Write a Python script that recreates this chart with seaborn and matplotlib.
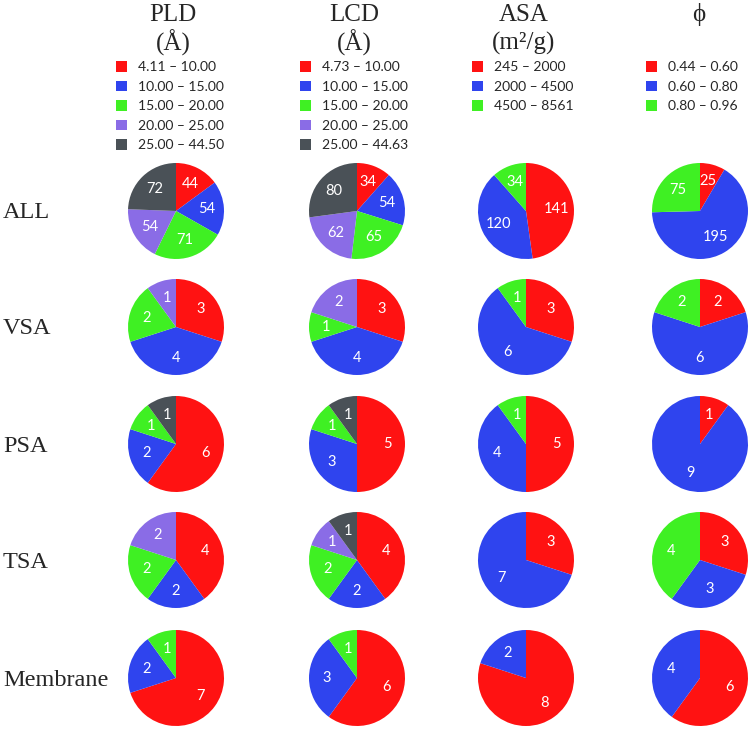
import matplotlib
matplotlib.use("Agg")
import matplotlib.pyplot as plt
from matplotlib.patches import Patch
import seaborn as sns

# data
row_names = ["ALL", "VSA", "PSA", "TSA", "Membrane"]

pld_bins = ["4.11 – 10.00", "10.00 – 15.00", "15.00 – 20.00", "20.00 – 25.00", "25.00 – 44.50"]
lcd_bins = ["4.73 – 10.00", "10.00 – 15.00", "15.00 – 20.00", "20.00 – 25.00", "25.00 – 44.63"]
asa_bins = ["245 – 2000", "2000 – 4500", "4500 – 8561"]
phi_bins = ["0.44 – 0.60", "0.60 – 0.80", "0.80 – 0.96"]

pld_counts = [[44, 54, 71, 54, 72], [3, 4, 2, 1, 0], [6, 2, 1, 0, 1], [4, 2, 2, 2, 0], [7, 2, 1, 0, 0]]
lcd_counts = [[34, 54, 65, 62, 80], [3, 4, 1, 2, 0], [5, 3, 1, 0, 1], [4, 2, 2, 1, 1], [6, 3, 1, 0, 0]]
asa_counts = [[141, 120, 34], [3, 6, 1], [5, 4, 1], [3, 7, 0], [8, 2, 0]]
phi_counts = [[25, 195, 75], [2, 6, 2], [1, 9, 0], [3, 3, 4], [6, 4, 0]]

titles = ["PLD\n(Å)", "LCD\n(Å)", "ASA\n(m²/g)", "ϕ"]

sns.set_theme(style="white")
colors = sns.color_palette(["#FF1212", "#2F44EE", "#3FF023", "#8A6CE6", "#4A5157"])

W, H = 756, 735
fig = plt.figure(figsize=(W / 100, H / 100), dpi=100)

col_x = [176, 357, 526, 700]
row_y = [211, 327, 444, 560, 678]
R = 48

columns = [
    (pld_counts, pld_bins),
    (lcd_counts, lcd_bins),
    (asa_counts, asa_bins),
    (phi_counts, phi_bins),
]

for j, (counts, bins) in enumerate(columns):
    for i, vals in enumerate(counts):
        cx, cy = col_x[j], row_y[i]
        ax = fig.add_axes([(cx - 1.25 * R) / W, 1 - (cy + 1.25 * R) / H, 2.5 * R / W, 2.5 * R / H])
        labels = [str(v) if v > 0 else "" for v in vals]
        wedges, texts = ax.pie(vals, labels=labels, colors=colors[:len(vals)], startangle=90,
                               counterclock=False, labeldistance=0.64,
                               wedgeprops=dict(linewidth=0),
                               textprops=dict(color="white", fontsize=10.5, family="Lato"))
        for t in texts:
            t.set_horizontalalignment("center")
            t.set_verticalalignment("center")
        ax.set_xlim(-1.25, 1.25)
        ax.set_ylim(-1.25, 1.25)
        ax.set_aspect("equal")
        ax.axis("off")

# column headers
title_x = [173, 354, 524, 699]
for j, t in enumerate(titles):
    lines = t.split("\n")
    fig.text(title_x[j] / W, 1 - 15 / H, lines[0], ha="center", va="center",
             family="Liberation Serif", fontsize=18)
    if len(lines) > 1:
        fig.text(title_x[j] / W, 1 - 43 / H, lines[1], ha="center", va="center",
                 family="Liberation Serif", fontsize=18)

# legends
leg_x = [116, 300, 472, 646]
for j, (counts, bins) in enumerate(columns):
    handles = [Patch(facecolor=colors[k], edgecolor="none") for k in range(len(bins))]
    fig.legend(handles, bins, loc="upper left", bbox_to_anchor=(leg_x[j] / W, 1 - 61 / H),
               frameon=False, handlelength=0.8, handleheight=0.8,
               handletextpad=0.8, labelspacing=0.53, borderpad=0, borderaxespad=0,
               prop=dict(family="Lato", size=10))

# row labels
for i, name in enumerate(row_names):
    fig.text(3 / W, 1 - (row_y[i] + 2) / H, name, ha="left", va="center",
             family="Liberation Serif", fontsize=17.5)

fig.savefig("out.png", dpi=100, facecolor="white")
